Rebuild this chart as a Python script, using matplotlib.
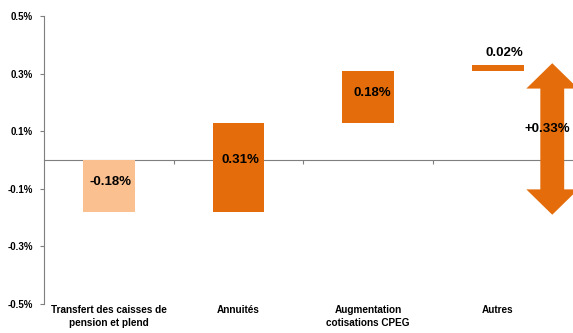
import matplotlib.pyplot as plt
from matplotlib.patches import Polygon
import numpy as np

plt.rcParams['font.family'] = ['Liberation Sans', 'DejaVu Sans']

categories = ['Transfert des caisses de\npension et plend', 'Annuités',
              'Augmentation\ncotisations CPEG', 'Autres']
deltas = [-0.18, 0.31, 0.18, 0.02]
value_labels = ['-0.18%', '0.31%', '0.18%', '0.02%']
total_label = '+0.33%'
yticks = [-0.5, -0.3, -0.1, 0.1, 0.3, 0.5]

dark = '#E46C0A'
light = '#FAC090'
grey = '#7F7F7F'

bottoms = np.concatenate([[0], np.cumsum(deltas)[:-1]])
tops = bottoms + np.array(deltas)
x = np.arange(len(categories))

fig = plt.figure(figsize=(5.73, 3.33), dpi=100)
ax = fig.add_axes([0.0768, 0.087, 0.9232, 0.865])

# waterfall bars
colors = [light, dark, dark, dark]
ax.bar(x, deltas, bottom=bottoms, width=0.4, color=colors, zorder=3)

# value labels
lab_y = [-0.076, 0.0, 0.233, tops[3] + 0.04]
lab_dx = [0.015, 0.015, 0.03, 0.05]
for xi, dx, y, t in zip(x, lab_dx, lab_y, value_labels):
    ax.text(xi + dx, y, t, ha='center', va='center', fontsize=9.5,
            fontweight='bold', color='black', zorder=5)

# double arrow showing the total
total = sum(deltas)
low = -0.19
ax_c = 3.42
sw, hw, hl = 0.092, 0.2, 0.088
top = total + 0.006
verts = [(ax_c, top), (ax_c + hw, top - hl), (ax_c + sw, top - hl),
         (ax_c + sw, low + hl), (ax_c + hw, low + hl), (ax_c, low),
         (ax_c - hw, low + hl), (ax_c - sw, low + hl), (ax_c - sw, top - hl),
         (ax_c - hw, top - hl)]
ax.add_patch(Polygon(verts, closed=True, color=dark, lw=0, zorder=4))
ax.text(3.385, 0.108, total_label, ha='center', va='center', fontsize=9.5,
        fontweight='bold', zorder=5)

# category labels under the plot
for xi, c in zip(x, categories):
    ax.text(xi, -0.505, c, ha='center', va='top', fontsize=7.2, fontweight='bold',
            linespacing=1.3)

ax.set_xlim(-0.5, 3.58)
ax.set_ylim(-0.5, 0.5)
ax.set_yticks(yticks)
ax.set_yticklabels([f'{v:.1f}%' for v in yticks], fontsize=7, fontweight='bold')
ax.set_xticks(x + 0.5)
ax.set_xticklabels([])
for s in ['top', 'right']:
    ax.spines[s].set_visible(False)
ax.spines['bottom'].set_position(('data', 0))
for s in ['left', 'bottom']:
    ax.spines[s].set_color(grey)
    ax.spines[s].set_linewidth(0.8)
ax.tick_params(axis='y', length=3, color=grey, pad=5)
ax.tick_params(axis='x', length=3, color=grey, direction='out')

fig.savefig('out.png', dpi=100)
